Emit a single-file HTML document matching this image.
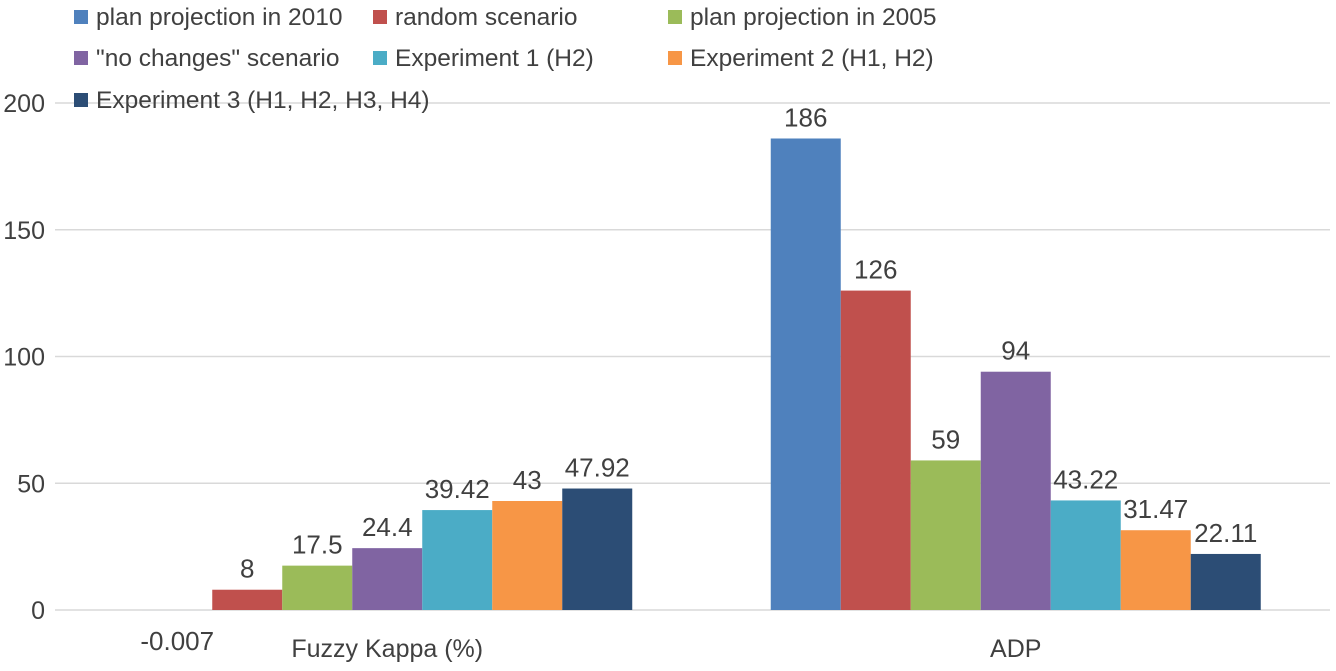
<!DOCTYPE html>
<html><head><meta charset="utf-8"><style>
body{margin:0;background:#fff;}
svg text{font-family:"Liberation Sans",sans-serif;fill:#404040;}
</style></head><body>
<svg id="c" width="1336" height="666" xmlns="http://www.w3.org/2000/svg"></svg>
<script>
const categories=["Fuzzy Kappa (%)","ADP"];
const seriesNames=["plan projection in 2010","random scenario","plan projection in 2005","\"no changes\" scenario","Experiment 1 (H2)","Experiment 2 (H1, H2)","Experiment 3 (H1, H2, H3, H4)"];
const colors=["#4f81bd","#c0504d","#9bbb59","#8064a2","#4bacc6","#f79646","#2c4d75"];
const fuzzyValues=[-0.007,8,17.5,24.4,39.42,43,47.92];
const adpValues=[186,126,59,94,43.22,31.47,22.11];
const valueLabels=[["-0.007","8","17.5","24.4","39.42","43","47.92"],["186","126","59","94","43.22","31.47","22.11"]];
const yTicks=[0,50,100,150,200];
const data=[fuzzyValues,adpValues];
const svg=document.getElementById('c');
const NS="http://www.w3.org/2000/svg";
const x0=73,x1=1330,yZero=610,yTop=103;
const y=v=>yZero-(v/200)*(yZero-yTop);
const catW=(x1-x0)/categories.length, barW=70;
function mk(t,a){const e=document.createElementNS(NS,t);for(const k in a)e.setAttribute(k,a[k]);svg.appendChild(e);return e;}
yTicks.forEach(t=>{
 const g=mk('line',{x1:55,x2:x1,y1:y(t),y2:y(t),stroke:'#d9d9d9','stroke-width':1.5});
 
 
 const tx=mk('text',{x:45,y:y(t)+9,'font-size':25,'text-anchor':'end'});tx.textContent=t;
 
 
});
categories.forEach((c,ci)=>{
 const gs=x0+ci*catW+(catW-barW*seriesNames.length)/2;
 data[ci].forEach((v,si)=>{
  const bx=gs+si*barW, top=Math.min(y(v),yZero), h=Math.abs(y(v)-yZero);
  const r=mk('rect',{x:bx,y:top,width:barW,height:h,fill:colors[si]});
  
  
  const ly=v<0.5?yZero+40:y(v)-12;
  const l=mk('text',{x:bx+barW/2,y:ly,'font-size':26,'text-anchor':'middle'});l.textContent=valueLabels[ci][si];
  
  
 });
 const ct=mk('text',{x:x0+ci*catW+catW/2,y:657,'font-size':25,'text-anchor':'middle'});ct.textContent=c;
 
 
});
const legX=[74,373,668],legY=[17,58,100];
seriesNames.forEach((n,i)=>{
 const cx=legX[i%3],cy=legY[Math.floor(i/3)];
 const s=mk('rect',{x:cx,y:cy-7,width:14,height:14,fill:colors[i]});
 
 
 const t=mk('text',{x:cx+22,y:cy+8,'font-size':24.5});t.textContent=n;
 
 
});
</script>
</body></html>
